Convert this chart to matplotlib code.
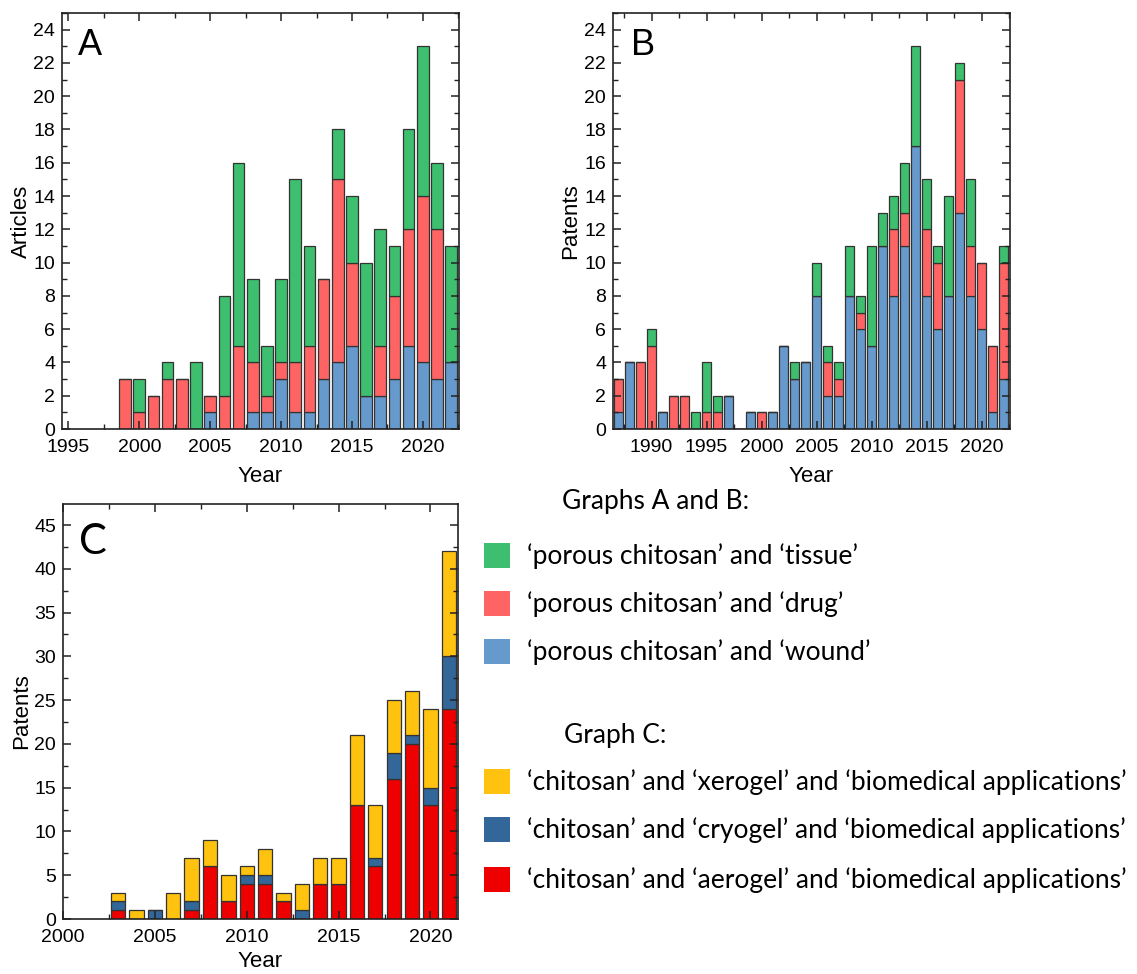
import matplotlib
matplotlib.use('Agg')
import matplotlib.pyplot as plt
from matplotlib.patches import Rectangle
from matplotlib.ticker import MultipleLocator
import numpy as np

plt.rcParams['font.family'] = ['Liberation Sans', 'DejaVu Sans']

# ── Data ─────────────────────────────────────────────────────────────────────
years_A  = np.arange(1999, 2023)
wound_A  = [0, 0, 0, 0, 0, 0, 1, 0, 0, 1, 1, 3, 1, 1, 3, 4, 5, 2, 2, 3, 5, 4, 3, 4]
drug_A   = [3, 1, 2, 3, 3, 0, 1, 2, 5, 3, 1, 1, 3, 4, 6, 11, 5, 0, 3, 5, 7, 10, 9, 0]
tissue_A = [0, 2, 0, 1, 0, 4, 0, 6, 11, 5, 3, 5, 11, 6, 0, 3, 4, 8, 7, 3, 6, 9, 4, 7]

years_B  = np.arange(1987, 2023)
wound_B  = [1, 4, 0, 0, 1, 0, 0, 0, 0, 0, 2, 0, 1, 0, 1, 5, 3, 4, 8, 2, 2, 8, 6, 5,
            11, 8, 11, 17, 8, 6, 8, 13, 8, 6, 1, 3]
drug_B   = [2, 0, 4, 5, 0, 2, 2, 0, 1, 1, 0, 0, 0, 1, 0, 0, 0, 0, 0, 2, 1, 0, 1, 0,
            0, 4, 2, 0, 4, 4, 0, 8, 3, 4, 4, 7]
tissue_B = [0, 0, 0, 1, 0, 0, 0, 1, 3, 1, 0, 0, 0, 0, 0, 0, 1, 0, 2, 1, 1, 3, 1, 6,
            2, 2, 3, 6, 3, 1, 6, 1, 4, 0, 0, 1]

years_C  = np.arange(2003, 2022)
aerogel  = [1, 0, 0, 0, 1, 6, 2, 4, 4, 2, 0, 4, 4, 13, 6, 16, 20, 13, 24]
cryogel  = [1, 0, 1, 0, 1, 0, 0, 1, 1, 0, 1, 0, 0, 0, 1, 3, 1, 2, 6]
xerogel  = [1, 1, 0, 3, 5, 3, 3, 1, 3, 1, 3, 3, 3, 8, 6, 6, 5, 9, 12]

labels_AB = ["\u2018porous chitosan\u2019 and \u2018tissue\u2019",
             "\u2018porous chitosan\u2019 and \u2018drug\u2019",
             "\u2018porous chitosan\u2019 and \u2018wound\u2019"]
labels_C  = ["\u2018chitosan\u2019 and \u2018xerogel\u2019 and \u2018biomedical applications\u2019",
             "\u2018chitosan\u2019 and \u2018cryogel\u2019 and \u2018biomedical applications\u2019",
             "\u2018chitosan\u2019 and \u2018aerogel\u2019 and \u2018biomedical applications\u2019"]

# colours
C_TISSUE, C_DRUG, C_WOUND = "#3dbf6f", "#ff6464", "#6699cc"
C_XERO, C_CRYO, C_AERO = "#ffc20e", "#336699", "#ee0000"
EDGE = "#333333"

W, H = 1137, 974
fig = plt.figure(figsize=(W / 100, H / 100), dpi=100)

def px_axes(l, r, t, b):
    return fig.add_axes([l / W, 1 - b / H, (r - l) / W, (b - t) / H])

ax_A = px_axes(62, 459, 13, 429)
ax_B = px_axes(613, 1010, 13, 429)
ax_C = px_axes(63, 458, 504, 919)

def stack(ax, x, series, colors, width):
    bottom = np.zeros(len(x))
    for vals, col in zip(series, colors):
        vals = np.array(vals, dtype=float)
        ax.bar(x, vals, width, bottom=bottom, color=col, edgecolor=EDGE,
               linewidth=0.9)
        bottom += vals

def style(ax, xlim, ylim, xmaj, ymaj, ymin, ylabel, xlab_y, ylab_x):
    ax.set_xlim(*xlim)
    ax.set_ylim(*ylim)
    ax.xaxis.set_major_locator(MultipleLocator(xmaj))
    ax.xaxis.set_minor_locator(MultipleLocator(xmaj / 2))
    ax.yaxis.set_major_locator(MultipleLocator(ymaj))
    ax.yaxis.set_minor_locator(MultipleLocator(ymin))
    ax.tick_params(which='both', direction='in', top=True, right=True,
                   labelsize=14, color='#222222')
    ax.tick_params(which='major', length=6, width=1.1)
    ax.tick_params(which='minor', length=3.5, width=1.0)
    ax.tick_params(axis='x', pad=7)
    ax.tick_params(axis='y', pad=5)
    for s in ax.spines.values():
        s.set_linewidth(1.2)
        s.set_color('#222222')
    ax.set_xlabel("Year", fontsize=16)
    ax.set_ylabel(ylabel, fontsize=16)
    ax.xaxis.set_label_coords(0.5, xlab_y)
    ax.yaxis.set_label_coords(ylab_x, 0.5)

stack(ax_A, years_A, [wound_A, drug_A, tissue_A], [C_WOUND, C_DRUG, C_TISSUE], 0.82)
style(ax_A, (1994.55, 2022.55), (0, 25), 5, 2, 1, "Articles", -0.09, -0.075)
ax_A.text(0.04, 0.965, "A", transform=ax_A.transAxes, fontsize=26,
          ha='left', va='top')

stack(ax_B, years_B, [wound_B, drug_B, tissue_B], [C_WOUND, C_DRUG, C_TISSUE], 0.82)
style(ax_B, (1986.5, 2022.55), (0, 25), 5, 2, 1, "Patents", -0.09, -0.08)
ax_B.text(0.045, 0.965, "B", transform=ax_B.transAxes, fontsize=26,
          ha='left', va='top')

stack(ax_C, years_C, [aerogel, cryogel, xerogel], [C_AERO, C_CRYO, C_XERO], 0.78)
style(ax_C, (2000, 2021.5), (0, 47.4), 5, 5, 2.5, "Patents", -0.077, -0.078)
ax_C.text(0.04, 0.955, "C", transform=ax_C.transAxes, fontsize=30,
          ha='left', va='top', family=['Lato', 'DejaVu Sans'])

# ── Legend block ─────────────────────────────────────────────────────────────
LFONT = ['Lato', 'DejaVu Sans']
LSIZE = 19

def fig_text(x, y, s):
    fig.text(x / W, 1 - y / H, s, fontsize=LSIZE, family=LFONT,
             ha='left', va='center')

def swatch(y, col):
    fig.patches.append(Rectangle((484 / W, 1 - (y + 12) / H), 26 / W, 25 / H,
                                 transform=fig.transFigure, facecolor=col,
                                 edgecolor='none'))

fig_text(562, 502, "Graphs A and B:")
for y, col, lab in zip([556, 604, 652], [C_TISSUE, C_DRUG, C_WOUND], labels_AB):
    swatch(y, col)
    fig_text(527, y, lab)

fig_text(564, 735, "Graph C:")
for y, col, lab in zip([782, 830, 880], [C_XERO, C_CRYO, C_AERO], labels_C):
    swatch(y, col)
    fig_text(527, y, lab)

plt.savefig("out.png", dpi=100)
plt.close()
